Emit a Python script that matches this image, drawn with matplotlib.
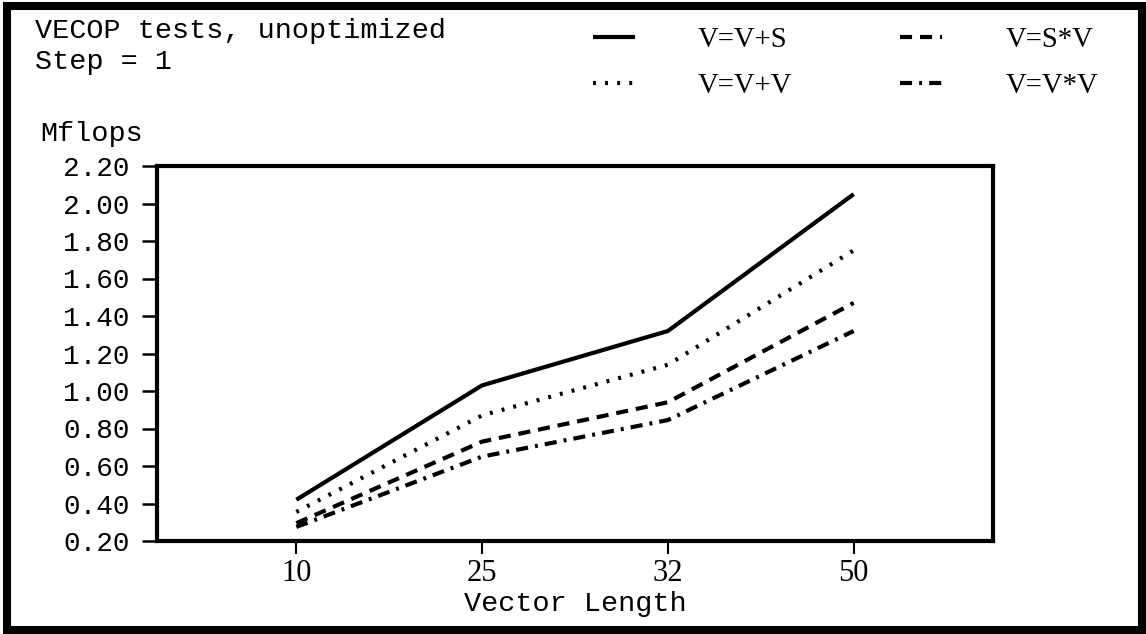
import matplotlib
matplotlib.use("Agg")
import matplotlib.pyplot as plt
from matplotlib.patches import Rectangle

# data
vector_lengths = ["10", "25", "32", "50"]
v_add_s = [0.42, 1.03, 1.32, 2.05]
v_add_v = [0.355, 0.87, 1.14, 1.75]
s_mul_v = [0.295, 0.73, 0.94, 1.47]
v_mul_v = [0.275, 0.65, 0.845, 1.32]
y_ticks = [0.20, 0.40, 0.60, 0.80, 1.00, 1.20, 1.40, 1.60, 1.80, 2.00, 2.20]

W, H = 1146, 634
mono = "Liberation Mono"
serif = "Liberation Serif"

fig = plt.figure(figsize=(W / 100, H / 100), dpi=100)

# axes box in pixel coords: left 157, right 993, top 166, bottom 541
ax = fig.add_axes([157 / W, 1 - 541 / H, 836 / W, 375 / H])

x = list(range(len(vector_lengths)))
lw = 3.0
ax.plot(x, v_add_s, color="black", lw=lw, linestyle="-", label="V=V+S",
        solid_capstyle="butt")
ax.plot(x, v_add_v, color="black", lw=lw, linestyle=(0, (0.7, 2.2)), label="V=V+V")
ax.plot(x, s_mul_v, color="black", lw=lw, linestyle=(0, (2.9, 1.9)), label="V=S*V")
ax.plot(x, v_mul_v, color="black", lw=lw, linestyle=(0, (2.9, 1.7, 0.7, 1.7)),
        label="V=V*V")

ax.set_xlim(-0.75, 3.75)
ax.set_ylim(0.20, 2.20)
ax.set_xticks(x)
ax.set_xticklabels(vector_lengths, fontfamily=serif, fontsize=22)
ax.set_yticks(y_ticks)
ax.set_yticklabels([f"{v:.2f}" for v in y_ticks], fontfamily=mono, fontsize=20)

for s in ax.spines.values():
    s.set_linewidth(3.0)
ax.tick_params(axis="y", direction="out", length=11, width=1.8, pad=8.5)
ax.tick_params(axis="x", direction="out", length=9, width=1.5, pad=4)

ax.set_xlabel("Vector Length", fontfamily=mono, fontsize=20.5, va="center")
ax.xaxis.set_label_coords(0.5, (541 - 604) / 375)

fig.text(40 / W, 1 - 141 / H, "Mflops", fontfamily=mono, fontsize=20.5,
         va="baseline", ha="left")
fig.text(35 / W, 1 - 38 / H, "VECOP tests, unoptimized", fontfamily=mono,
         fontsize=20.5, va="baseline", ha="left")
fig.text(35 / W, 1 - 69 / H, "Step = 1", fontfamily=mono, fontsize=20.5,
         va="baseline", ha="left")

h, l = ax.get_legend_handles_labels()
leg = fig.legend(h, l, ncol=2, loc="upper left",
                 bbox_to_anchor=(593 / W, 1 - 27 / H),
                 prop={"family": serif, "size": 20.7},
                 frameon=False, handlelength=1.45, handletextpad=2.2,
                 columnspacing=3.75, labelspacing=0.7, borderpad=0,
                 borderaxespad=0)

# outer frame round the whole picture
fig.patches.append(Rectangle((7 / W, 4 / H), (1142 - 7) / W, (628 - 4) / H,
                             transform=fig.transFigure, fill=False,
                             edgecolor="black", linewidth=5.8))

fig.savefig("out.png", dpi=100)
